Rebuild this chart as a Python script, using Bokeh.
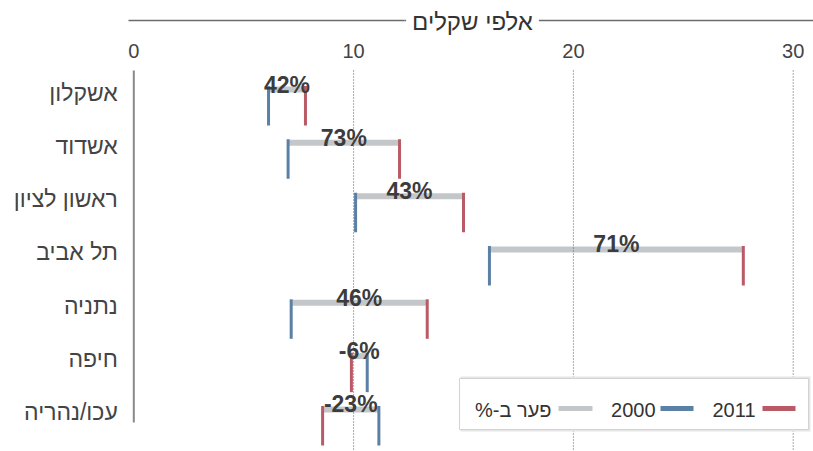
from bokeh.plotting import figure
from bokeh.models import Range1d, ColumnDataSource
from bokeh.core.properties import value
from bokeh.embed import file_html
from bokeh.resources import INLINE

# Average monthly wage per city, thousands of shekels
CITIES = ["אשקלון", "אשדוד", "ראשון לציון", "תל אביב", "נתניה", "חיפה", "עכו/נהריה"]
WAGE_2000 = [6.13, 7.02, 10.09, 16.18, 7.16, 10.62, 11.15]
WAGE_2011 = [7.81, 12.09, 15.00, 27.73, 13.35, 9.90, 8.59]
GAP_LABELS = ["42%", "73%", "43%", "71%", "46%", "-6%", "-23%"]
X_TICKS = [0, 10, 20, 30]
AXIS_TITLE = "אלפי שקלים"
LEGEND_LABELS = ["2011", "2000", "פער ב-%\u200F"]

W, H = 813, 451
FONT = "Liberation Sans"
RED, BLUE, GREY = "#b95b66", "#5a80a6", "#c4c7ca"
TEXT = "#3c3c3c"

# screen layout: x=0 sits 133px from the left, one row every 53px
X0_PX, PX_PER_UNIT = 133.3, 21.98
ROW0_PX, ROW_PX = 89.0, 53.33


def sx(px):
    return (px - X0_PX) / PX_PER_UNIT


def sy(px):
    return (px - ROW0_PX) / ROW_PX


p = figure(width=W, height=H, output_backend="svg", toolbar_location=None,
           x_range=Range1d(sx(0), sx(W)), y_range=Range1d(sy(H), sy(0)),
           x_axis_location=None, y_axis_location=None, min_border=0,
           outline_line_color=None, background_fill_color="white",
           border_fill_color="white")
p.grid.visible = False

rows = list(range(len(CITIES)))
src = ColumnDataSource(dict(
    row=rows,
    city=CITIES,
    w2000=WAGE_2000,
    w2011=WAGE_2011,
    mid=[(a + b) / 2 for a, b in zip(WAGE_2000, WAGE_2011)],
    gap=GAP_LABELS,
    tick_top=[r - 3.5 / ROW_PX for r in rows],
    tick_bot=[r + 36 / ROW_PX for r in rows],
))

# header: axis title between two rules
p.segment(x0=[sx(128), sx(404)], y0=[sy(20)] * 2, x1=[sx(404), sx(W)], y1=[sy(20)] * 2,
          line_color="#6b6b6b", line_width=1.5)
p.text(x=[sx(472)], y=[sy(21)], text=[AXIS_TITLE], text_font=value(FONT),
       text_font_size="24px", text_color="#333333", text_align="center",
       text_baseline="middle", background_fill_color="white", padding=6)

# tick labels along the top
p.text(x=X_TICKS, y=[sy(50)] * len(X_TICKS), text=[str(t) for t in X_TICKS],
       text_font=value(FONT), text_font_size="20px", text_color="#444444",
       text_align="center", text_baseline="middle")

# zero line
p.segment(x0=[0], y0=[sy(70)], x1=[0], y1=[sy(422)], line_color="#8a8a8a", line_width=2)

# gap bars with year ticks hanging from each end
p.segment(x0="w2000", y0="row", x1="w2011", y1="row", source=src,
          line_color=GREY, line_width=6)
p.segment(x0="w2000", y0="tick_top", x1="w2000", y1="tick_bot", source=src,
          line_color=BLUE, line_width=3)
p.segment(x0="w2011", y0="tick_top", x1="w2011", y1="tick_bot", source=src,
          line_color=RED, line_width=3)

# dotted guides
guides = X_TICKS[1:]
p.segment(x0=guides, y0=[sy(70)] * len(guides), x1=guides, y1=[sy(H)] * len(guides),
          line_color="#555555", line_width=1, line_dash="1 2")

# percent change labels
p.text(x="mid", y="row", text="gap", source=src, y_offset=-5,
       text_font=value(FONT), text_font_style="bold", text_font_size="23px",
       text_color=TEXT, text_align="center", text_baseline="alphabetic")

# city names
p.text(x=0, y="row", text="city", source=src, x_offset=-16, y_offset=3,
       text_font=value(FONT), text_font_size="23px", text_color="#444444",
       text_align="right", text_baseline="middle")

# legend box (right to left: 2011, 2000, gap)
p.quad(left=[sx(460)], right=[sx(810)], top=[sy(376)], bottom=[sy(431)],
       fill_color="#e6e6e6", line_color=None)
p.quad(left=[sx(459)], right=[sx(808)], top=[sy(378)], bottom=[sy(429)],
       fill_color="white", line_color="#d2d2d2", line_width=1)
sw_left = [sx(762), sx(660), sx(558)]
sw_right = [sx(795), sx(693), sx(592)]
p.segment(x0=sw_left, y0=[sy(408)] * 3, x1=sw_right, y1=[sy(408)] * 3,
          line_color=[RED, BLUE, GREY], line_width=5)
p.text(x=[sx(755), sx(655), sx(551)], y=[sy(409)] * 3, text=LEGEND_LABELS,
       text_font=value(FONT), text_font_size="20px", text_color="#333333",
       text_align="right", text_baseline="middle")

open("out.html", "w").write(file_html(p, INLINE))
